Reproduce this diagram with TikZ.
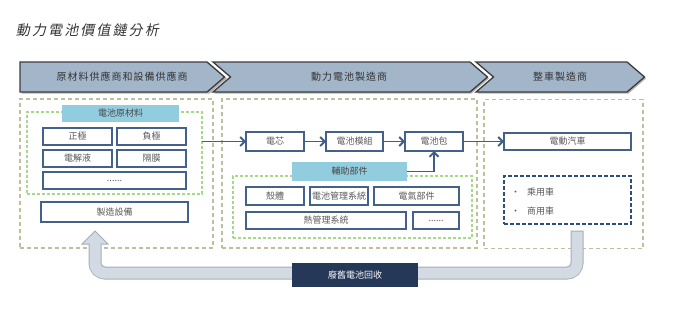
\documentclass[tikz,border=0pt]{standalone}
\usepackage{fontspec}
\setmainfont{Noto Sans CJK TC}
\newfontfamily\titlefont[FakeSlant=0.2,LetterSpace=15]{Noto Sans CJK TC}
\newfontfamily\headfont[LetterSpace=10]{Noto Sans CJK TC}
\usetikzlibrary{arrows.meta}
\definecolor{boxblue}{HTML}{44618A}
\definecolor{arrblue}{HTML}{3F5D86}
\definecolor{txtgray}{HTML}{595959}
\definecolor{olivedash}{HTML}{BFBFA0}
\definecolor{grn}{HTML}{A6D98A}
\definecolor{tagblue}{HTML}{92CDDF}
\definecolor{chevfill}{HTML}{A2B5C9}
\definecolor{chevline}{HTML}{3C3C3C}
\definecolor{navy}{HTML}{253858}
\definecolor{recfill}{HTML}{D3DAE3}
\definecolor{recline}{HTML}{A3AEBC}
\definecolor{dashblue}{HTML}{2F4E7A}
\definecolor{titlegray}{HTML}{333333}
\begin{document}
\begin{tikzpicture}[x=1pt,y=-1pt,
  every node/.style={font=\fontsize{9}{10}\selectfont, text=txtgray, inner sep=0pt, outer sep=0pt},
  box/.style={draw=boxblue, line width=1.6pt, fill=white},
  conn/.style={draw=arrblue, line width=1.8pt, -{Straight Barb[length=4.5pt,width=9pt]}},
  outerbox/.style={draw=olivedash, dash pattern=on 4pt off 3pt, line width=1.2pt},
  greenbox/.style={draw=grn, dash pattern=on 3pt off 2pt, line width=1.1pt},
  tagbox/.style={fill=tagblue, text=txtgray!80!black},
  chev/.style={fill=chevfill, draw=chevline, line width=1.3pt},
  chevshadow/.style={fill=black!30},
  headtext/.style={font=\headfont\fontsize{10}{12}\selectfont, text=titlegray}
]
\useasboundingbox (0,0) rectangle (692,308);

% title
\node[anchor=west, font=\titlefont\fontsize{14}{16}\selectfont, text=titlegray] (title) at (16,30) {動力電池價值鏈分析};

% chevrons
\fill[chevshadow] (21.5,63.5) -- (209.5,63.5) -- (227,78.5) -- (209.5,93.5) -- (21.5,93.5) -- cycle;
\fill[chevshadow] (214.5,63.5) -- (471.5,63.5) -- (489,78.5) -- (471.5,93.5) -- (214.5,93.5) -- (232,78.5) -- cycle;
\fill[chevshadow] (477.5,63.5) -- (628.5,63.5) -- (646,78.5) -- (628.5,93.5) -- (477.5,93.5) -- (495,78.5) -- cycle;
\draw[chev] (20,62) -- (207,62) -- (224.5,77) -- (207,92) -- (20,92) -- cycle;
\draw[chev] (213,62) -- (470,62) -- (487.5,77) -- (470,92) -- (213,92) -- (230.5,77) -- cycle;
\draw[chev] (476,62) -- (627,62) -- (644.5,77) -- (627,92) -- (476,92) -- (493.5,77) -- cycle;
\node[headtext] (h1) at (122,77) {原材料供應商和設備供應商};
\node[headtext] (h2) at (349,77) {動力電池製造商};
\node[headtext] (h3) at (560,77) {整車製造商};

% outer dashed boxes
\node[outerbox, minimum width=193pt, minimum height=149pt] (col1) at (116.5,173.5) {};
\node[outerbox, minimum width=255pt, minimum height=149pt] (col2) at (349.5,173.5) {};
\node[outerbox, minimum width=159pt, minimum height=149pt] (col3) at (563.5,174) {};

% column 1
\node[greenbox, minimum width=175pt, minimum height=82pt] (grn1) at (114.5,153) {};
\node[tagbox, minimum width=117pt, minimum height=17pt] (matl) at (120.5,113.5) {電池原材料};
\node[box, minimum width=69pt, minimum height=17pt] (zj) at (77.5,136.5) {正極};
\node[box, minimum width=69pt, minimum height=17pt] (fj) at (151.5,136.5) {負極};
\node[box, minimum width=69pt, minimum height=17pt] (djy) at (77.5,158.5) {電解液};
\node[box, minimum width=69pt, minimum height=17pt] (gm) at (151.5,158.5) {隔膜};
\node[box, minimum width=143pt, minimum height=17pt] (dots1) at (114.5,180.5) {......};
\node[box, minimum width=147pt, minimum height=20pt] (zzsb) at (114.5,212) {製造設備};

% column 2
\node[box, minimum width=58pt, minimum height=19pt] (cell) at (275,141.5) {電芯};
\node[box, minimum width=57pt, minimum height=19pt] (mod) at (354.5,141.5) {電池模組};
\node[box, minimum width=58pt, minimum height=19pt] (pack) at (434,141.5) {電池包};
\node[greenbox, minimum width=239pt, minimum height=62pt] (grn2) at (352.5,207) {};
\node[tagbox, minimum width=115pt, minimum height=19pt] (aux) at (349.5,171.5) {輔助部件};
\node[box, minimum width=58pt, minimum height=18pt] (shell) at (275,196) {殼體};
\node[box, minimum width=58pt, minimum height=18pt] (bms) at (339,196) {電池管理系統};
\node[box, minimum width=85pt, minimum height=18pt] (elec) at (416.5,196) {電氣部件};
\node[box, minimum width=160pt, minimum height=17pt] (therm) at (326,220.5) {熱管理系統};
\node[box, minimum width=46pt, minimum height=17pt] (dots2) at (436,220.5) {......};

% column 3
\node[box, minimum width=127pt, minimum height=17pt] (ev) at (567.5,141.5) {電動汽車};
\node[draw=dashblue, dash pattern=on 4pt off 2pt, line width=1.5pt, minimum width=127pt, minimum height=48pt] (vbox) at (567.5,200) {};
\node[anchor=west] (car1) at (511,192) {\makebox[16pt][l]{•}乘用車};
\node[anchor=west] (car2) at (511,211) {\makebox[16pt][l]{•}商用車};

% connectors
\draw[conn] (grn1.east |- cell.west) -- (cell.west);
\draw[conn] (cell) -- (mod);
\draw[conn] (mod) -- (pack);
\draw[conn] (pack) -- (ev);
\draw[conn] (aux.east) -| (pack.south);

% recycle arrow
\coordinate (rstart) at (577,237);
\coordinate (rend) at (95,250);
\draw[line width=13pt, draw=recline, line cap=rect, rounded corners=10pt] (rstart) -- (577,273) -- (95,273) -- (rend);
\filldraw[fill=recfill, draw=recline, line width=1pt, line join=miter] (82,244) -- (95,231) -- (108,244) -- cycle;
\draw[line width=11pt, draw=recfill, line cap=rect, rounded corners=9.5pt] (rstart) -- (577,273) -- (95,273) -- (95,246);
\node[fill=navy, text=white, minimum width=126pt, minimum height=24pt] (recy) at (355,275) {廢舊電池回收};
\end{tikzpicture}
\end{document}
